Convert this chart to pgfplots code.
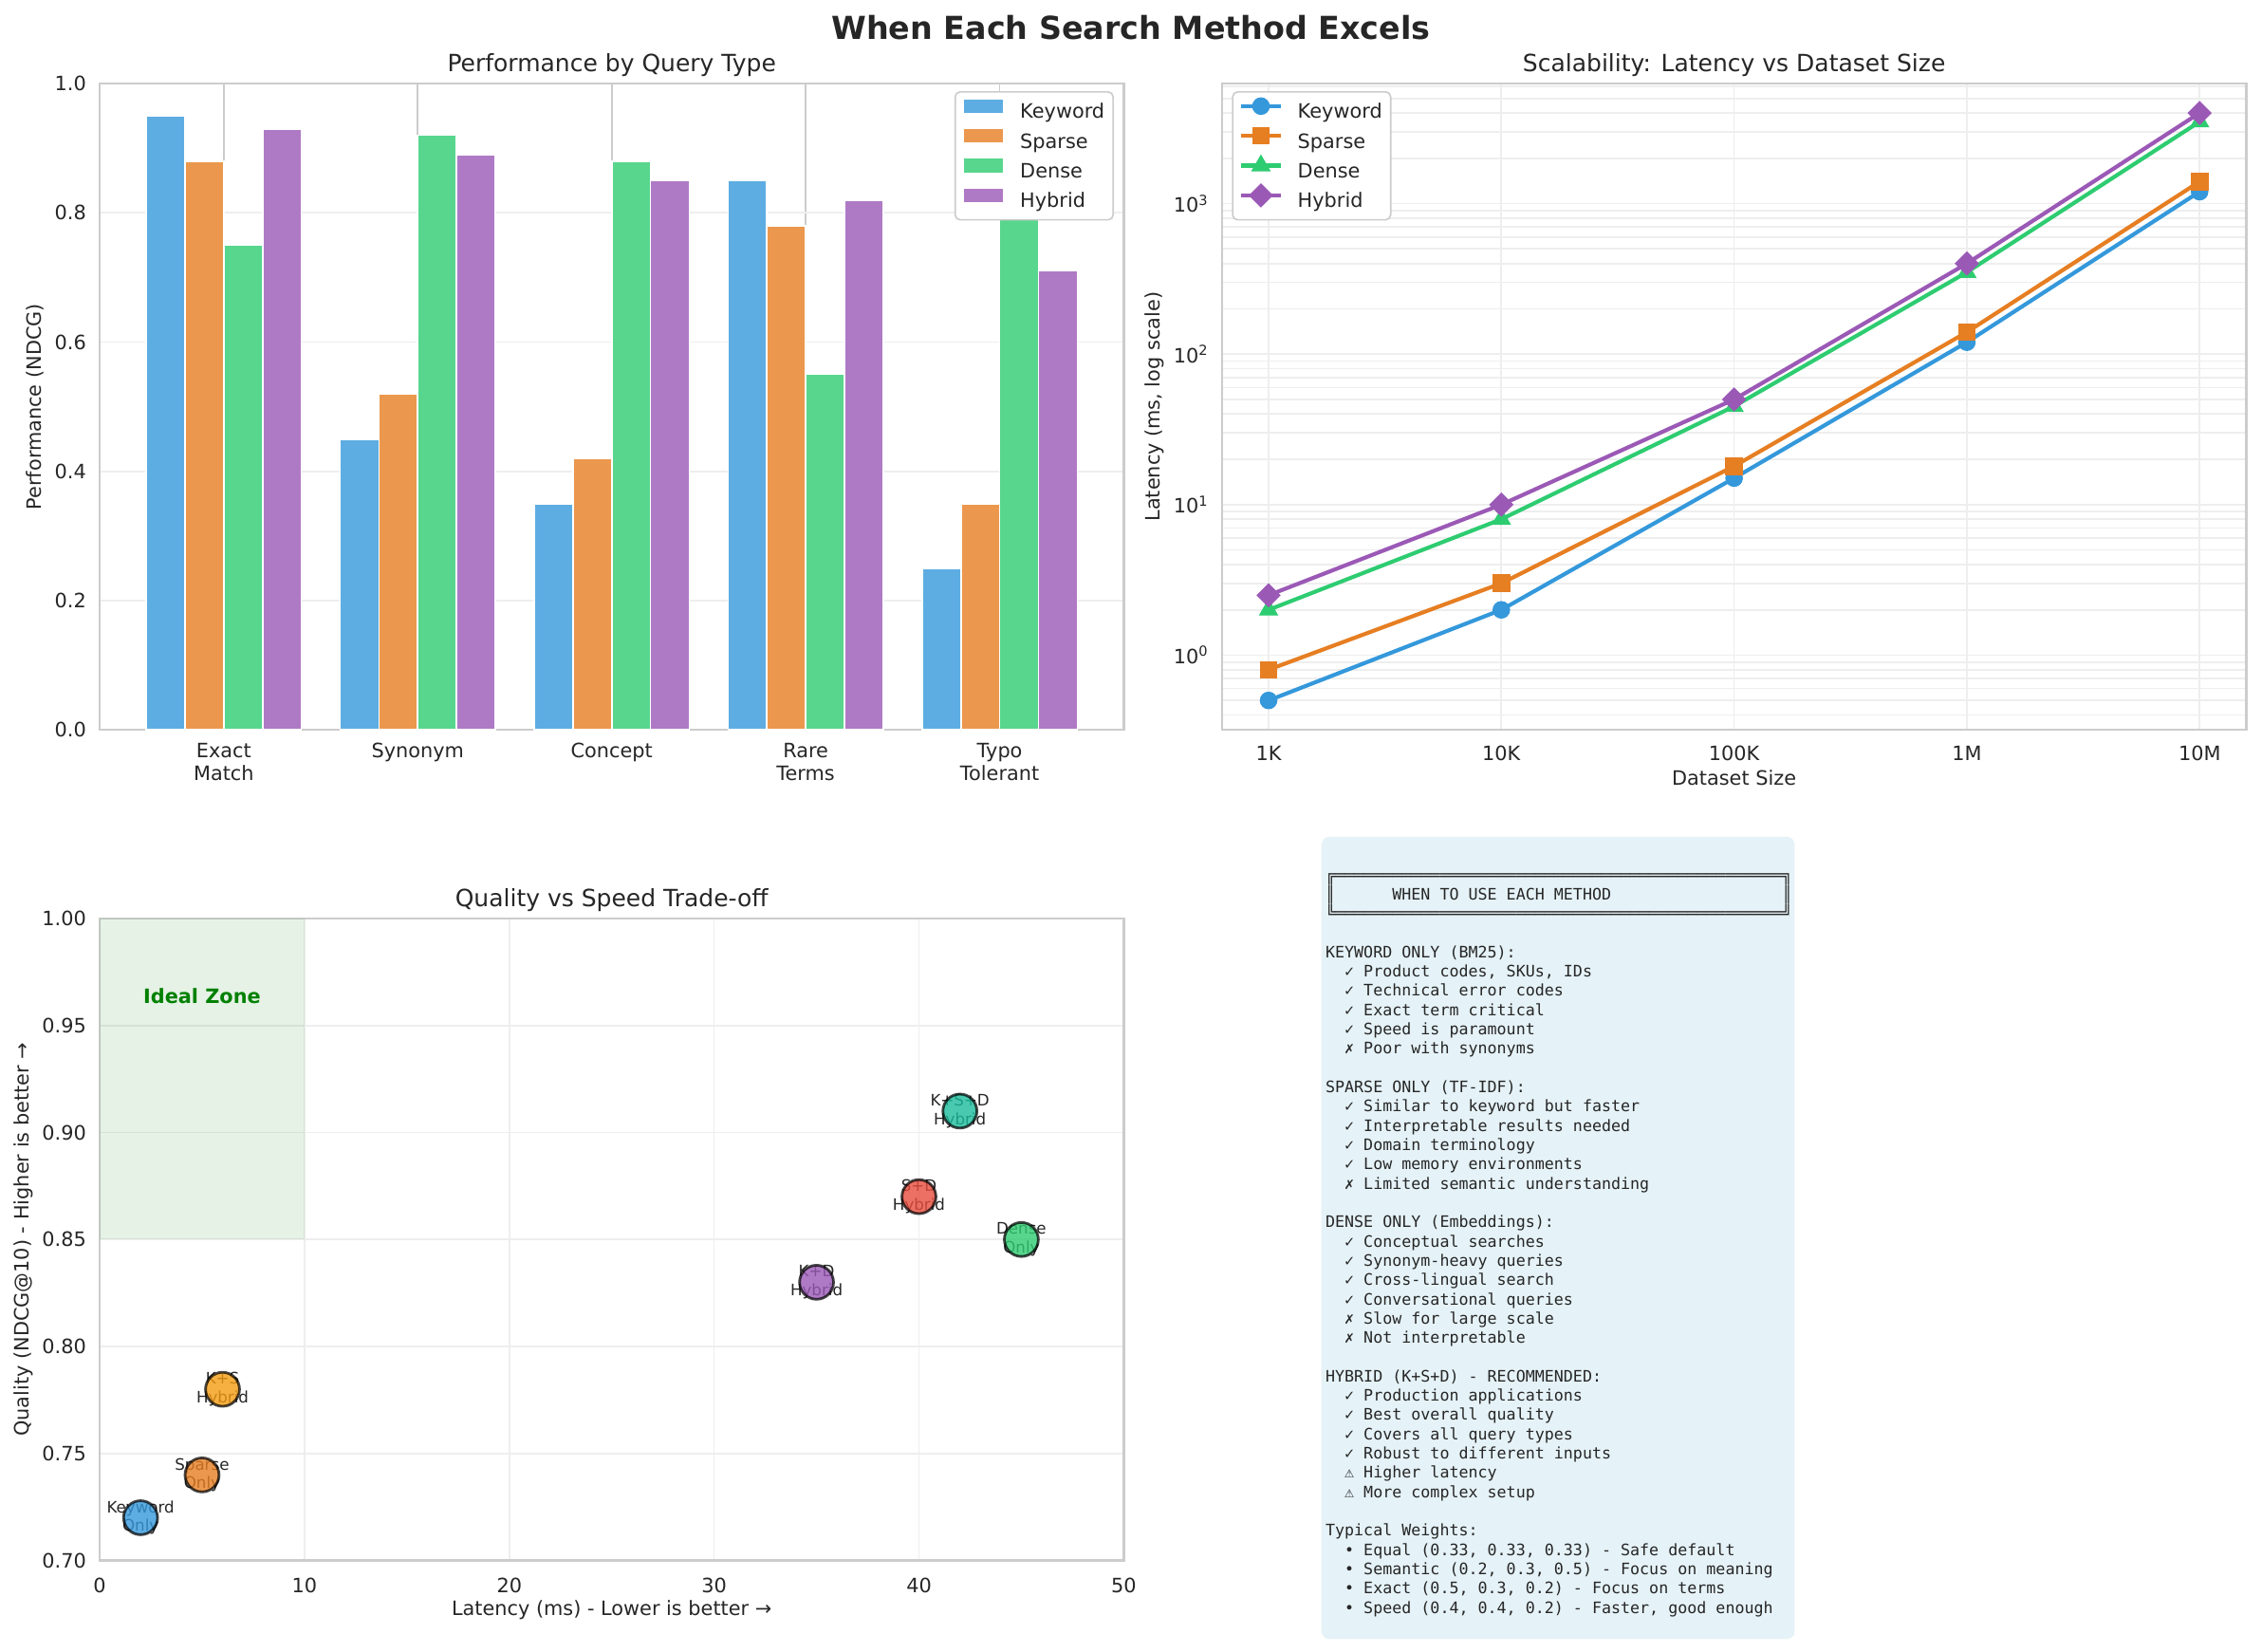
\documentclass[border=0pt]{standalone}
\usepackage{fontspec}
\setmainfont{DejaVu Sans}
\newfontfamily\monof{DejaVu Sans Mono}
\usepackage{pgfplots}
\pgfplotsset{compat=1.18}
\definecolor{spine}{HTML}{CCCCCC}
\definecolor{gridl}{HTML}{EEEEEE}
\definecolor{tickc}{HTML}{262626}
\definecolor{bK}{HTML}{5DADE2}
\definecolor{bS}{HTML}{EB984E}
\definecolor{bD}{HTML}{58D68D}
\definecolor{bH}{HTML}{AF7AC5}
\definecolor{lK}{HTML}{3498DB}
\definecolor{lS}{HTML}{E67E22}
\definecolor{lD}{HTML}{2ECC71}
\definecolor{lH}{HTML}{9B59B6}
\definecolor{sKS}{HTML}{F39C12}
\definecolor{sSD}{HTML}{E74C3C}
\definecolor{sKSD}{HTML}{1ABC9C}
\definecolor{zoneg}{HTML}{008000}
\definecolor{boxc}{HTML}{E5F2F7}
\pgfplotsset{
  myax/.style={
    scale only axis,
    axis line style={draw=spine, line width=1.25pt},
    major tick length=0pt, minor tick length=0pt,
    tick style={draw=none},
    tick label style={font=\fontsize{10}{11.7}\selectfont, text=tickc},
    xticklabel style={anchor=north, inner sep=0pt, yshift=-8.5pt},
    yticklabel style={anchor=east, inner sep=0pt, xshift=-6.6pt},
    label style={font=\fontsize{10}{12}\selectfont, text=tickc},
    title style={font=\fontsize{12}{14}\selectfont, text=tickc, at={(axis description cs:0.5,1)}, anchor=base, yshift=0pt},
    xlabel style={at={(axis description cs:0.5,0)}, anchor=base, yshift=-28pt},
    legend cell align=left,
    legend style={font=\fontsize{10}{12}\selectfont, text=tickc, draw=spine, line width=0.8pt,
      rounded corners=2.5pt, fill=white, inner xsep=4.3pt, inner ysep=3.8pt, row sep=3.1pt,
      nodes={inner sep=0pt, text height=7.6pt, text depth=2.3pt},
      /tikz/every odd column/.append style={column sep=8.6pt}},
  },
  barleg/.style={legend image code/.code={\fill[##1, sharp corners, draw=none] (0pt,0.2pt) rectangle (20pt,7pt);}},
  linleg/.style={legend image code/.code={\path[draw=none, fill=none] (0pt,0.2pt) rectangle (20pt,7pt);\draw[overlay, sharp corners, mark repeat=2, mark phase=2, ##1] plot coordinates {(0pt,3.6pt) (10pt,3.6pt) (20pt,3.6pt)};}},
  sc/.style={only marks, mark=*, mark size=8.6pt, mark options={fill=#1, fill opacity=0.8, draw=black, draw opacity=0.72, line width=1.35pt}},
}
\newlength\cw
\setlength\cw{4.8164pt}
\newcommand{\sk}[1]{\hspace*{#1\cw}}
\def\eq{═}
\def\eqx{\eq\eq\eq\eq\eq\eq\eq\eq\eq\eq}
\newcommand{\TL}[2]{\node[anchor=base west, inner sep=0pt, font=\monof\fontsize{8}{9.75}\selectfont, text=tickc] at (670.4pt, {389.7pt-(#1-1)*9.75pt}) {#2};}
\begin{document}
\begin{tikzpicture}
\useasboundingbox (0,0) rectangle (1144.32pt,835.2pt);
\node[anchor=base, font=\fontsize{16}{19}\selectfont\bfseries, text=tickc] at (572.16pt,815.5pt) {When Each Search Method Excels};

% ---------- Panel 1: bars ----------
\begin{axis}[myax, at={(50.4pt,466.0pt)}, anchor=south west, width=518.1pt, height=326.9pt,
  ybar, bar width=0.2,
  xmin=-0.64, xmax=4.64, ymin=0, ymax=1,
  xtick={0,1,2,3,4}, xticklabels={{Exact\\Match},Synonym,Concept,{Rare\\Terms},{Typo\\Tolerant}},
  xticklabel style={align=center, yshift=2pt},
  ytick={0,0.2,0.4,0.6,0.8,1.0}, yticklabels={0.0,0.2,0.4,0.6,0.8,1.0},
  xmajorgrids, ymajorgrids,
  x grid style={draw=spine, line width=0.8pt},
  y grid style={draw=gridl, line width=0.8pt},
  ylabel={Performance (NDCG)},
  ylabel style={at={(axis description cs:-0.0569,0.5)}, anchor=base},
  title={Performance by Query Type},
  legend style={at={(axis description cs:1,1)}, anchor=north east, xshift=-5pt, yshift=-3.8pt},
]
\addplot[fill=bK, draw=white, line width=0.8pt, bar shift=-0.3, barleg] coordinates {(0,0.95) (1,0.45) (2,0.35) (3,0.85) (4,0.25)};
\addplot[fill=bS, draw=white, line width=0.8pt, bar shift=-0.1, barleg] coordinates {(0,0.88) (1,0.52) (2,0.42) (3,0.78) (4,0.35)};
\addplot[fill=bD, draw=white, line width=0.8pt, bar shift=0.1, barleg] coordinates {(0,0.75) (1,0.92) (2,0.88) (3,0.55) (4,0.82)};
\addplot[fill=bH, draw=white, line width=0.8pt, bar shift=0.3, barleg] coordinates {(0,0.93) (1,0.89) (2,0.85) (3,0.82) (4,0.71)};
\legend{Keyword,Sparse,Dense,Hybrid}
\end{axis}

% ---------- Panel 2: scalability ----------
\begin{axis}[myax, at={(618.2pt,466.0pt)}, anchor=south west, width=518.1pt, height=326.9pt,
  ymode=log, xmin=-0.2, xmax=4.2, ymin=0.319, ymax=6270,
  xtick={0,1,2,3,4}, xticklabels={1K,10K,100K,1M,10M},
  xticklabel style={yshift=0.7pt},
  ytick={1,10,100,1000}, yticklabels={10\textsuperscript{0},10\textsuperscript{1},10\textsuperscript{2},10\textsuperscript{3}},
  minor ytick={0.4,0.5,0.6,0.7,0.8,0.9,2,3,4,5,6,7,8,9,20,30,40,50,60,70,80,90,200,300,400,500,600,700,800,900,2000,3000,4000,5000,6000},
  xmajorgrids, ymajorgrids, yminorgrids,
  major grid style={draw=gridl, line width=0.8pt},
  minor grid style={draw=gridl, line width=0.8pt},
  xlabel={Dataset Size}, ylabel={Latency (ms, log scale)},
  ylabel style={at={(axis description cs:-0.0607,0.5)}, anchor=base},
  title={Scalability: Latency vs Dataset Size},
  legend style={at={(axis description cs:0,1)}, anchor=north west, xshift=5pt, yshift=-3.8pt},
  linleg,
]
\addplot[color=lK, line width=2pt, mark=*, mark size=4.2pt, mark options={solid, line width=0.5pt}] coordinates {(0,0.5) (1,2) (2,15) (3,120) (4,1200)};
\addplot[color=lS, line width=2pt, mark=square*, mark size=4.2pt, mark options={solid, line width=0.5pt}] coordinates {(0,0.8) (1,3) (2,18) (3,140) (4,1400)};
\addplot[color=lD, line width=2pt, mark=triangle*, mark size=5.2pt, mark options={solid, line width=0.5pt}] coordinates {(0,2) (1,8) (2,45) (3,350) (4,3500)};
\addplot[color=lH, line width=2pt, mark=square*, mark size=4.1pt, mark options={solid, line width=0.5pt, rotate=45}] coordinates {(0,2.5) (1,10) (2,50) (3,400) (4,4000)};
\legend{Keyword,Sparse,Dense,Hybrid}
\end{axis}

% ---------- Panel 3: quality vs speed ----------
\begin{axis}[myax, at={(50.4pt,45.8pt)}, anchor=south west, width=518.1pt, height=324.8pt,
  xmin=0, xmax=50, ymin=0.7, ymax=1.0,
  xtick={0,10,20,30,40,50}, xticklabels={0,10,20,30,40,50},
  ytick={0.7,0.75,0.8,0.85,0.9,0.95,1.0}, yticklabels={0.70,0.75,0.80,0.85,0.90,0.95,1.00},
  xmajorgrids, ymajorgrids,
  major grid style={draw=gridl, line width=0.8pt},
  xlabel={Latency (ms) - Lower is better →},
  ylabel={Quality (NDCG@10) - Higher is better →},
  ylabel style={at={(axis description cs:-0.0693,0.5)}, anchor=base},
  title={Quality vs Speed Trade-off},
]
\fill[zoneg, fill opacity=0.1] (axis cs:0,0.85) rectangle (axis cs:10,1.0);
\node[font=\fontsize{10}{12}\selectfont\bfseries, text=zoneg, yshift=4pt] at (axis cs:5,0.96) {Ideal Zone};
\addplot[sc=lK] coordinates {(2,0.72)};
\addplot[sc=lS] coordinates {(5,0.74)};
\addplot[sc=sKS] coordinates {(6,0.78)};
\addplot[sc=lD] coordinates {(45,0.85)};
\addplot[sc=lH] coordinates {(35,0.83)};
\addplot[sc=sSD] coordinates {(40,0.87)};
\addplot[sc=sKSD] coordinates {(42,0.91)};
\begin{scope}[every node/.style={font=\fontsize{8}{9.4}\selectfont, text=tickc, align=center, inner sep=0pt}]
\node at (axis cs:2,0.72) {Keyword\\Only};
\node at (axis cs:5,0.74) {Sparse\\Only};
\node at (axis cs:6,0.78) {K+S\\Hybrid};
\node at (axis cs:45,0.85) {Dense\\Only};
\node at (axis cs:35,0.83) {K+D\\Hybrid};
\node at (axis cs:40,0.87) {S+D\\Hybrid};
\node at (axis cs:42,0.91) {K+S+D\\Hybrid};
\end{scope}
\end{axis}

% ---------- Panel 4: text box ----------
\fill[boxc, rounded corners=4pt] (668.5pt,6.1pt) rectangle (907.9pt,411.9pt);
\TL{1}{╔\eqx\eqx\eqx\eqx\eq\eq\eq\eq\eq\eq\eq╗}
\TL{2}{║\sk{6}WHEN TO USE EACH METHOD\sk{18}║}
\TL{3}{╚\eqx\eqx\eqx\eqx\eq\eq\eq\eq\eq\eq\eq╝}
\TL{5}{KEYWORD ONLY (BM25):}
\TL{6}{\sk{2}✓ Product codes, SKUs, IDs}
\TL{7}{\sk{2}✓ Technical error codes}
\TL{8}{\sk{2}✓ Exact term critical}
\TL{9}{\sk{2}✓ Speed is paramount}
\TL{10}{\sk{2}✗ Poor with synonyms}
\TL{12}{SPARSE ONLY (TF-IDF):}
\TL{13}{\sk{2}✓ Similar to keyword but faster}
\TL{14}{\sk{2}✓ Interpretable results needed}
\TL{15}{\sk{2}✓ Domain terminology}
\TL{16}{\sk{2}✓ Low memory environments}
\TL{17}{\sk{2}✗ Limited semantic understanding}
\TL{19}{DENSE ONLY (Embeddings):}
\TL{20}{\sk{2}✓ Conceptual searches}
\TL{21}{\sk{2}✓ Synonym-heavy queries}
\TL{22}{\sk{2}✓ Cross-lingual search}
\TL{23}{\sk{2}✓ Conversational queries}
\TL{24}{\sk{2}✗ Slow for large scale}
\TL{25}{\sk{2}✗ Not interpretable}
\TL{27}{HYBRID (K+S+D) - RECOMMENDED:}
\TL{28}{\sk{2}✓ Production applications}
\TL{29}{\sk{2}✓ Best overall quality}
\TL{30}{\sk{2}✓ Covers all query types}
\TL{31}{\sk{2}✓ Robust to different inputs}
\TL{32}{\sk{2}⚠ Higher latency}
\TL{33}{\sk{2}⚠ More complex setup}
\TL{35}{Typical Weights:}
\TL{36}{\sk{2}• Equal (0.33, 0.33, 0.33) - Safe default}
\TL{37}{\sk{2}• Semantic (0.2, 0.3, 0.5) - Focus on meaning}
\TL{38}{\sk{2}• Exact (0.5, 0.3, 0.2) - Focus on terms}
\TL{39}{\sk{2}• Speed (0.4, 0.4, 0.2) - Faster, good enough}
\end{tikzpicture}
\end{document}
